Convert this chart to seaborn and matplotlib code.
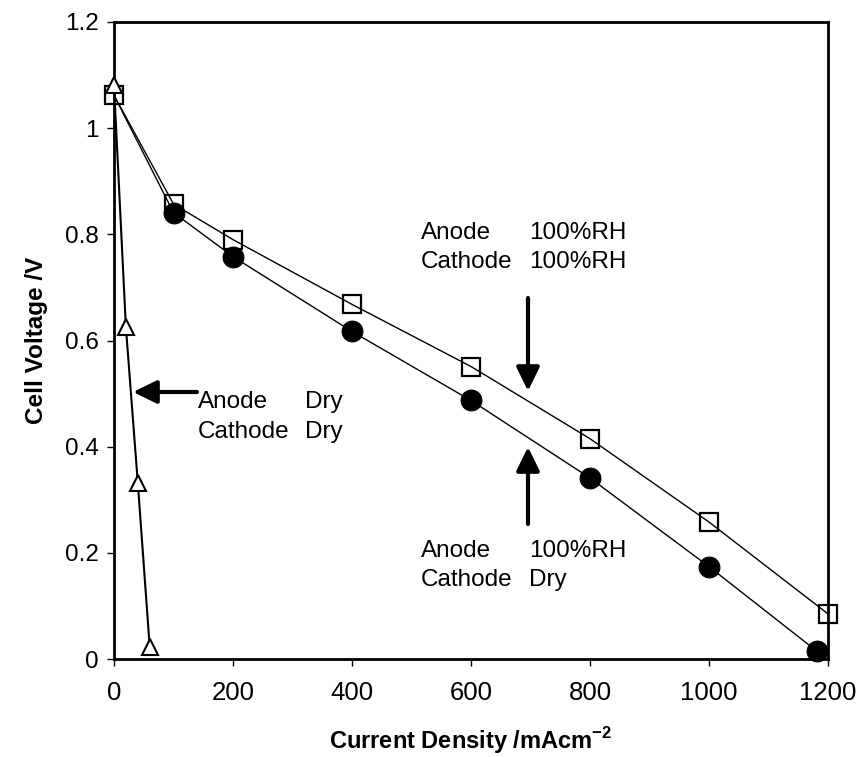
import matplotlib
matplotlib.use("Agg")
import matplotlib.pyplot as plt
import seaborn as sns
import numpy as np
import pandas as pd

# ---- data ----
sq_x = [0, 100, 200, 400, 600, 800, 1000, 1200]
sq_y = [1.062, 0.857, 0.790, 0.668, 0.551, 0.415, 0.258, 0.085]

ci_x = [0, 100, 200, 400, 600, 800, 1000, 1181]
ci_y = [1.062, 0.841, 0.758, 0.617, 0.487, 0.341, 0.174, 0.015]

tr_x = [0, 20, 40, 60]
tr_y = [1.081, 0.625, 0.332, 0.023]

x_ticks = [0, 200, 400, 600, 800, 1000, 1200]
y_ticks = [0, 0.2, 0.4, 0.6, 0.8, 1.0, 1.2]
y_tick_labels = ["0", "0.2", "0.4", "0.6", "0.8", "1", "1.2"]

sns.set_theme(style="white")
plt.rcParams["font.family"] = ["Liberation Sans", "DejaVu Sans"]
plt.rcParams["mathtext.fontset"] = "custom"
plt.rcParams["mathtext.rm"] = "Liberation Sans"
plt.rcParams["mathtext.bf"] = "Liberation Sans:bold"

fig = plt.figure(figsize=(8.59, 7.57), dpi=100)
ax = fig.add_axes([114 / 859, 1 - 659 / 757, (828 - 114) / 859, (659 - 22) / 757])

df_sq = pd.DataFrame({"x": sq_x, "y": sq_y})
df_ci = pd.DataFrame({"x": ci_x, "y": ci_y})
df_tr = pd.DataFrame({"x": tr_x, "y": tr_y})

sns.lineplot(data=df_sq, x="x", y="y", ax=ax, color="black", lw=1.0,
             marker="s", markersize=13.5, markerfacecolor="none",
             markeredgecolor="black", markeredgewidth=1.6,
             errorbar=None, clip_on=False, zorder=3)
sns.lineplot(data=df_ci, x="x", y="y", ax=ax, color="black", lw=1.0,
             marker="o", markersize=15, markerfacecolor="black",
             markeredgecolor="black", markevery=list(range(1, len(ci_x))),
             errorbar=None, clip_on=False, zorder=4)
sns.lineplot(data=df_tr, x="x", y="y", ax=ax, color="black", lw=1.5,
             marker="^", markersize=12, markerfacecolor="white",
             markeredgecolor="black", markeredgewidth=1.5,
             errorbar=None, clip_on=False, zorder=5)

ax.set_xlim(0, 1200)
ax.set_ylim(0, 1.2)
ax.set_xticks(x_ticks)
ax.set_xticklabels([str(v) for v in x_ticks])
ax.set_yticks(y_ticks)
ax.set_yticklabels(y_tick_labels)
ax.tick_params(axis="both", which="major", direction="out", length=5, width=1,
               colors="black", left=True, bottom=True)
ax.tick_params(axis="x", labelsize=18.5, pad=11)
ax.tick_params(axis="y", labelsize=17.5, pad=6)
for s in ax.spines.values():
    s.set_color("black")
    s.set_linewidth(2)

ax.set_xlabel("Current Density /mAcm$^{\\mathbf{-2}}$", fontsize=17, fontweight="bold",
              color="black", va="center")
ax.xaxis.set_label_coords(0.5, (659 - 741) / 637)
ax.set_ylabel("Cell Voltage /V", fontsize=17.5, fontweight="bold", color="black", va="center")
ax.yaxis.set_label_coords((37 - 114) / 714, 0.5)

# ---- annotations ----
fs = 17.5
def px2d(px, py):
    return ((px - 114) / (714 / 1200), (659 - py) / (637 / 1.2))

def txt(px, py, s):
    x, y = px2d(px, py)
    ax.text(x, y, s, fontsize=fs, ha="left", va="center", color="black")

txt(198, 402, "Anode")
txt(198, 432, "Cathode")
txt(305, 402, "Dry")
txt(305, 432, "Dry")

txt(421, 233, "Anode")
txt(421, 262, "Cathode")
txt(529, 233, "100%RH")
txt(529, 262, "100%RH")

txt(421, 551, "Anode")
txt(421, 580, "Cathode")
txt(529, 551, "100%RH")
txt(529, 580, "Dry")

arrow_kw = dict(arrowstyle="-|>,head_length=0.45,head_width=0.22", color="black",
                lw=3, mutation_scale=32, shrinkA=0, shrinkB=0)
ax.annotate("", xy=px2d(133, 392), xytext=px2d(197, 392), arrowprops=arrow_kw)
ax.annotate("", xy=px2d(528, 391), xytext=px2d(528, 298), arrowprops=arrow_kw)
ax.annotate("", xy=px2d(528, 447), xytext=px2d(528, 524), arrowprops=arrow_kw)

fig.savefig("out.png", dpi=100)
